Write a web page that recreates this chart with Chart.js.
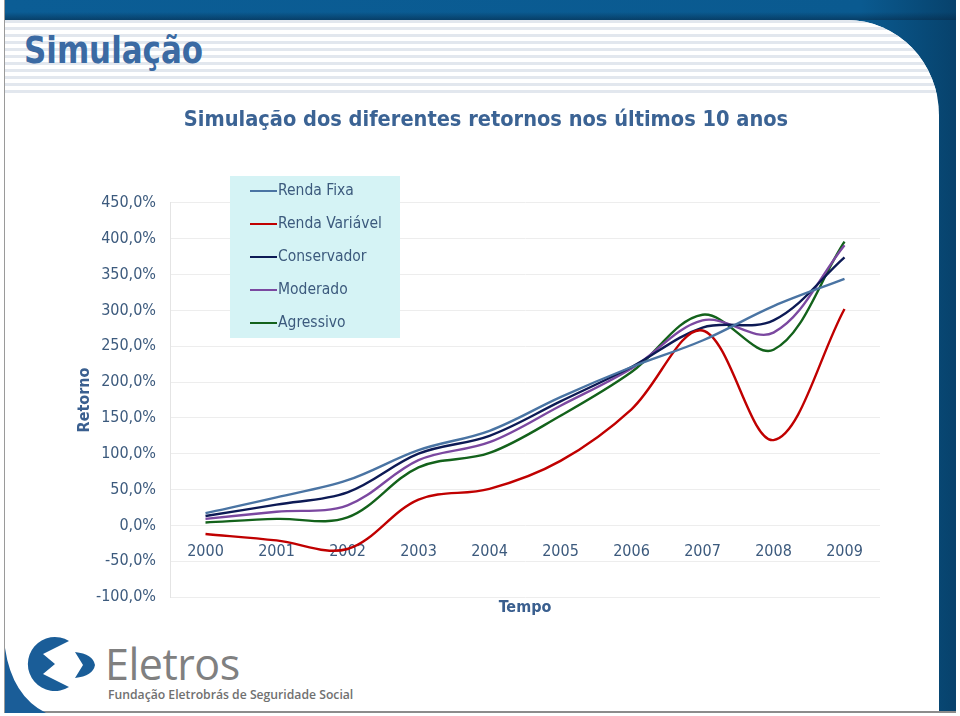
<!DOCTYPE html>
<html><head><meta charset="utf-8">
<script src="https://cdn.jsdelivr.net/npm/chart.js@4.4.1/dist/chart.umd.min.js"></script>
<style>
html,body{margin:0;padding:0;width:960px;height:716px;overflow:hidden;background:#fff;}
#frame{position:absolute;left:4px;top:0;width:952px;height:713px;background:linear-gradient(to right,#0b5d95,#0a5a90 90%,#07426c);border-left:1px solid #9a9a9a;border-bottom:2px solid #8c8c8c;box-sizing:border-box;}
#shade{position:absolute;left:0;top:12px;right:0;height:8px;background:linear-gradient(to bottom,rgba(5,40,70,0),rgba(5,40,70,0.55));}
#inner{position:absolute;left:0;top:20px;right:17px;bottom:0;background:#fff;border-top-right-radius:92px 95px;overflow:hidden;}
#stripes{position:absolute;left:0;top:0;right:0;height:76px;background:repeating-linear-gradient(to bottom,#e2e7ee 0px,#e2e7ee 3px,#ffffff 3px,#ffffff 7px);}
#head{position:absolute;left:24px;top:28px;font-family:'DejaVu Sans Condensed','DejaVu Sans',sans-serif;font-stretch:condensed;font-weight:bold;font-size:38px;color:#3b6aa3;transform:scaleX(0.905);transform-origin:0 0;}
#logo{position:absolute;left:0;top:0;}
#eletros{position:absolute;left:105px;top:639px;font-family:'Open Sans','DejaVu Sans',sans-serif;font-size:43px;color:#808080;line-height:50px;letter-spacing:-0.5px;}
#sub{position:absolute;left:108px;top:688px;font-family:'Open Sans','DejaVu Sans',sans-serif;font-size:12.2px;font-weight:600;color:#707070;line-height:14px;}
canvas#c{position:absolute;left:0;top:0;}
</style></head>
<body>
<div id="frame"><div id="shade"></div><div id="inner"><div id="stripes"></div></div></div>
<div id="head">Simulação</div>
<svg id="logo" width="110" height="716">
  <path d="M5,648 Q12,696 46,713 L5,713 Z" fill="#1a5d98"/>
  <path d="M69,641 A27,27 0 1 0 69,687 L43,674 L55,664 L43,654 Z" fill="#1a5d98"/>
  <path d="M75,652 Q93,654 95,665 Q93,676 75,678 L83,665 Z" fill="#1a5d98"/>
</svg>
<div id="eletros">Eletros</div>
<div id="sub">Fundação Eletrobrás de Seguridade Social</div>
<canvas id="c" width="960" height="716"></canvas>
<script>
const FONT = "'DejaVu Sans Condensed','DejaVu Sans',sans-serif";
const years = ['2000','2001','2002','2003','2004','2005','2006','2007','2008','2009'];
const rendaFixa     = [17, 39, 63, 105, 132, 179, 221, 258, 306, 344];
const rendaVariavel = [-12, -21, -33, 36, 51, 90, 162, 272, 119, 302];
const conservador   = [13, 29, 46, 100, 125, 173, 221, 276, 286, 374];
const moderado      = [9, 19, 28, 91, 116, 167, 219, 286, 269, 391];
const agressivo     = [4, 9, 11, 81, 101, 153, 214, 294, 245, 396];
const seriesNames  = ['Renda Fixa','Renda Variável','Conservador','Moderado','Agressivo'];
const seriesValues = [rendaFixa, rendaVariavel, conservador, moderado, agressivo];
const seriesColors = ['#4a74a3','#c00000','#0d1a55','#7b48a0','#13621b'];
const yMin = -100, yMax = 450, yStep = 50;

const boxLegend = {
  id: 'boxLegend',
  beforeDatasetsDraw(chart) {
    const ctx = chart.ctx;
    const x = 230, y = 176, w = 170, h = 162;
    ctx.save();
    ctx.fillStyle = '#d5f3f5';
    ctx.fillRect(x, y, w, h);
    chart.data.datasets.forEach((ds, i) => {
      const cy = 191 + i * 33;
      ctx.strokeStyle = ds.borderColor; ctx.lineWidth = 2;
      ctx.beginPath(); ctx.moveTo(x + 20, cy); ctx.lineTo(x + 47, cy); ctx.stroke();
      ctx.fillStyle = '#3c5a7d';
      ctx.font = '15.5px ' + FONT;
      ctx.textBaseline = 'middle'; ctx.textAlign = 'left';
      ctx.fillText(ds.label, x + 48, cy);
    });
    ctx.restore();
  }
};
const xTitle = {
  id: 'xTitle',
  afterDraw(chart) {
    const ctx = chart.ctx, ca = chart.chartArea;
    ctx.save();
    ctx.fillStyle = '#3a5f8f';
    ctx.font = 'bold 16px ' + FONT;
    ctx.textAlign = 'center'; ctx.textBaseline = 'middle';
    ctx.fillText('Tempo', (ca.left + ca.right) / 2, ca.bottom + 11);
    ctx.restore();
  }
};

new Chart(document.getElementById('c'), {
  type: 'line',
  data: {
    labels: years,
    datasets: seriesNames.map((n, i) => ({
      label: n, data: seriesValues[i], borderColor: seriesColors[i], backgroundColor: seriesColors[i],
      borderWidth: 2.4, pointRadius: 0, tension: 0.35, fill: false
    }))
  },
  options: {
    responsive: false, animation: false, devicePixelRatio: 1,
    layout: { padding: { left: 92, right: 80, top: 0, bottom: 119 } },
    plugins: {
      legend: { display: false },
      tooltip: { enabled: false },
      title: {
        display: true,
        text: 'Simulação dos diferentes retornos nos últimos 10 anos',
        color: '#3b6394',
        font: { family: FONT, size: 21.6, weight: 'bold' },
        padding: { top: 107, bottom: 70 }
      }
    },
    scales: {
      x: {
        type: 'category', position: { y: 0 }, offset: true,
        grid: { display: false }, border: { display: false },
        ticks: { color: '#3c5a7d', font: { family: FONT, size: 16 }, padding: 9, maxRotation: 0 }
      },
      y: {
        min: yMin, max: yMax,
        afterFit(s) { s.width = 78; },
        grid: { color: '#ededed', drawTicks: false },
        border: { display: true, color: '#e4e4e4' },
        ticks: { stepSize: yStep, padding: 14, color: '#3c5a7d', font: { family: FONT, size: 16 },
          callback: v => v.toFixed(1).replace('.', ',') + '%' },
        title: { display: true, text: 'Retorno', color: '#3a5f8f', font: { family: FONT, size: 16, weight: 'bold' }, padding: { top: -17, bottom: 0 } }
      }
    }
  },
  plugins: [boxLegend, xTitle]
});
</script>
</body></html>
